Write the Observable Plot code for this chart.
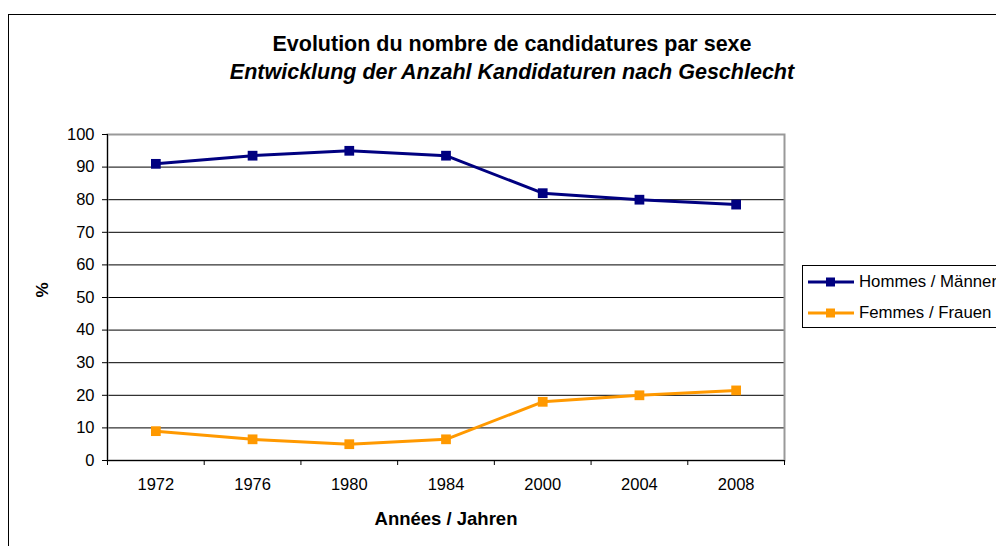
<!DOCTYPE html>
<html>
<head>
<meta charset="utf-8">
<script src="https://cdn.jsdelivr.net/npm/d3@7"></script>
<script src="https://cdn.jsdelivr.net/npm/@observablehq/plot@0.6"></script>
<style>
  html, body { margin: 0; padding: 0; background: #fff; }
  #wrap { position: relative; width: 996px; height: 546px; overflow: hidden; font-family: "Liberation Sans", Arial, sans-serif; }
  #border { position: absolute; left: 8px; top: 14px; width: 1200px; height: 800px; border: 1px solid #000; box-sizing: border-box; }
  #title { position: absolute; left: 0; width: 1024px; top: 30px; text-align: center; font-size: 21.5px; font-weight: bold; line-height: 28px; color: #000; }
  #title i { font-style: italic; }
  #chart { position: absolute; left: 0; top: 0; }
  #legend { position: absolute; left: 802px; top: 265px; width: 300px; height: 63px; border: 1px solid #000; box-sizing: border-box; background: #fff; }
  .row { position: absolute; left: 5px; height: 20px; font-size: 16.8px; color: #000; display: flex; align-items: center; white-space: nowrap; }
  .row svg { margin-right: 5px; }
</style>
</head>
<body>
<div id="wrap">
  <div id="border"></div>
  <div id="chart"></div>
  <div id="title">Evolution du nombre de candidatures par sexe<br><i>Entwicklung der Anzahl Kandidaturen nach Geschlecht</i></div>
  <div id="legend"></div>
</div>
<script>
const years = ["1972", "1976", "1980", "1984", "2000", "2004", "2008"];
const hommes = [91, 93.5, 95, 93.5, 82, 80, 78.5];
const femmes = [9, 6.5, 5, 6.5, 18, 20, 21.5];
const seriesNames = ["Hommes / Männer", "Femmes / Frauen"];
const seriesColors = ["#000080", "#FF9900"];
const yTicks = [0, 10, 20, 30, 40, 50, 60, 70, 80, 90, 100];

const data = [];
years.forEach((yr, i) => {
  data.push({i, year: yr, value: hommes[i], series: seriesNames[0]});
  data.push({i, year: yr, value: femmes[i], series: seriesNames[1]});
});
const boundaries = d3.range(years.length + 1).map(k => k - 0.5);

const chart = Plot.plot({
  width: 996,
  height: 546,
  marginLeft: 107,
  marginRight: 212,
  marginTop: 134,
  marginBottom: 86,
  style: {fontFamily: "Liberation Sans, Arial, sans-serif", fontSize: "16.5px", color: "#000", background: "transparent"},
  x: {domain: [-0.5, years.length - 0.5]},
  y: {domain: [0, 100]},
  color: {domain: seriesNames, range: seriesColors},
  marks: [
    Plot.ruleY(yTicks.filter(v => v > 0 && v < 100), {stroke: "#000", strokeWidth: 1}),
    Plot.frame({stroke: "#999", strokeWidth: 2}),
    Plot.ruleX([-0.5], {stroke: "#000", strokeWidth: 1}),
    Plot.ruleY([0], {stroke: "#000", strokeWidth: 1}),
    Plot.axisY({ticks: yTicks, tickSize: 5, tickPadding: 8, label: null, fontSize: 16.5, stroke: "#000"}),
    Plot.axisX({ticks: boundaries, tickSize: 5, tickFormat: () => "", label: null, stroke: "#000"}),
    Plot.axisX({ticks: d3.range(years.length), tickSize: 0, tickPadding: 18, tickFormat: i => years[i], label: null, fontSize: 16.5}),
    Plot.line(data, {x: "i", y: "value", z: "series", stroke: "series", strokeWidth: 3}),
    Plot.dot(data, {x: "i", y: "value", fill: "series", symbol: "square", r: 5.5}),
    Plot.text(["Années / Jahren"], {frameAnchor: "bottom", dy: 64, fontWeight: "bold", fontSize: 18.5, fill: "#000"}),
    Plot.text(["%"], {frameAnchor: "left", dx: -65, rotate: -90, fontWeight: "bold", fontSize: 17, fill: "#000"})
  ]
});
document.getElementById("chart").appendChild(chart);

const legend = document.getElementById("legend");
seriesNames.forEach((name, k) => {
  const row = document.createElement("div");
  row.className = "row";
  row.style.top = (6 + k * 31) + "px";
  row.innerHTML = `<svg width="46" height="12"><line x1="0" y1="6" x2="46" y2="6" stroke="${seriesColors[k]}" stroke-width="3"/><rect x="18" y="1.5" width="9" height="9" fill="${seriesColors[k]}"/></svg><span>${name}</span>`;
  legend.appendChild(row);
});
</script>
</body>
</html>
